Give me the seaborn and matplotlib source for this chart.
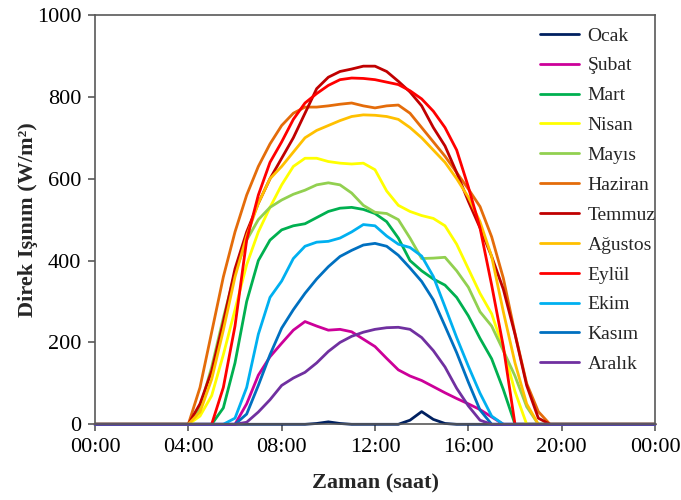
import numpy as np
import pandas as pd
import matplotlib
matplotlib.use("Agg")
import matplotlib.pyplot as plt
import seaborn as sns

# ---- data (W/m2), half-hourly from 04:00 to 19:30; night hours are zero ----
months = ["Ocak", "Şubat", "Mart", "Nisan", "Mayıs", "Haziran",
          "Temmuz", "Ağustos", "Eylül", "Ekim", "Kasım", "Aralık"]
colors = ["#002060", "#CC0099", "#00B050", "#FFFF00", "#92D050", "#E46C0A",
          "#C00000", "#FFC000", "#FF0000", "#00B0F0", "#0070C0", "#7030A0"]

day_start, day_end, step = 4.0, 20.0, 0.5

ocak    = [0, 0, 0, 0, 0, 0, 0, 0, 0, 0, 0, 2, 6, 2, 0, 0,
           0, 0, 0, 10, 31, 12, 2, 0, 0, 0, 0, 0, 0, 0, 0, 0]
subat   = [0, 0, 0, 0, 0, 50, 120, 165, 198, 230, 251, 240, 230, 232, 226, 208,
           190, 161, 133, 118, 107, 92, 77, 63, 50, 36, 18, 0, 0, 0, 0, 0]
mart    = [0, 0, 0, 40, 150, 300, 400, 450, 475, 485, 490, 505, 520, 528, 530, 525,
           515, 495, 455, 400, 375, 355, 340, 310, 265, 210, 160, 85, 0, 0, 0, 0]
nisan   = [0, 20, 70, 170, 280, 390, 470, 530, 585, 630, 650, 650, 642, 638, 636, 638,
           622, 570, 535, 520, 510, 503, 485, 440, 380, 320, 270, 185, 80, 0, 0, 0]
mayis   = [0, 40, 140, 260, 370, 450, 500, 530, 548, 562, 572, 585, 590, 585, 565, 535,
           518, 515, 500, 455, 405, 406, 408, 375, 335, 275, 240, 180, 118, 43, 0, 0]
haziran = [0, 90, 225, 360, 470, 560, 630, 685, 730, 760, 775, 775, 778, 782, 785, 778,
           773, 778, 780, 760, 725, 690, 655, 615, 575, 532, 458, 357, 222, 100, 31, 0]
temmuz  = [0, 50, 130, 250, 380, 470, 540, 600, 650, 700, 760, 820, 848, 862, 868, 875,
           875, 862, 838, 812, 778, 725, 680, 615, 545, 480, 410, 330, 220, 95, 15, 0]
agustos = [0, 30, 110, 230, 360, 460, 540, 600, 630, 665, 700, 718, 730, 742, 752, 756,
           755, 752, 745, 725, 700, 670, 640, 600, 555, 495, 410, 275, 150, 50, 0, 0]
eylul   = [0, 0, 0, 90, 240, 450, 560, 640, 690, 745, 785, 808, 828, 842, 846, 845,
           842, 836, 830, 815, 795, 765, 725, 670, 580, 480, 340, 190, 0, 0, 0, 0]
ekim    = [0, 0, 0, 0, 15, 90, 220, 310, 350, 405, 435, 445, 447, 455, 470, 488,
           485, 460, 440, 432, 411, 361, 287, 212, 142, 76, 20, 0, 0, 0, 0, 0]
kasim   = [0, 0, 0, 0, 0, 25, 95, 170, 235, 280, 320, 355, 385, 410, 425, 438,
           442, 435, 413, 382, 349, 304, 240, 175, 103, 35, 0, 0, 0, 0, 0, 0]
aralik  = [0, 0, 0, 0, 0, 5, 30, 60, 95, 113, 127, 150, 178, 200, 215, 225,
           232, 236, 237, 232, 212, 180, 140, 88, 45, 10, 0, 0, 0, 0, 0, 0]

series = [ocak, subat, mart, nisan, mayis, haziran,
          temmuz, agustos, eylul, ekim, kasim, aralik]

xtick_pos = [0, 4, 8, 12, 16, 20, 24]
xtick_labels = ["00:00", "04:00", "08:00", "12:00", "16:00", "20:00", "00:00"]
ytick_pos = [0, 200, 400, 600, 800, 1000]

# ---- long-form table ----
hours = np.arange(0, 24 + step / 2, step)
n_before = int(round(day_start / step))
rows = []
for m, vals in zip(months, series):
    full = [0] * n_before + list(vals)
    full = full + [0] * (len(hours) - len(full))
    for h, v in zip(hours, full):
        rows.append({"saat": h, "isinim": v, "ay": m})
df = pd.DataFrame(rows)

# ---- style ----
sns.set_style("white")
plt.rcParams["font.family"] = ["Liberation Serif", "DejaVu Serif"]
frame_col = "#595959"

fig = plt.figure(figsize=(6.81, 5.0), dpi=100)
ax = fig.add_axes([95 / 681, 1 - 424.3 / 500, 560 / 681, 409.3 / 500])

sns.lineplot(data=df, x="saat", y="isinim", hue="ay", hue_order=months,
             palette=colors, linewidth=2.0, ax=ax, legend=True)
for ln in ax.lines:
    ln.set_clip_on(False)
    ln.set_solid_joinstyle("round")

ax.set_xlim(0, 24)
ax.set_ylim(0, 1000)
ax.set_xticks(xtick_pos)
ax.set_xticklabels(xtick_labels)
ax.set_yticks(ytick_pos)

for sp in ax.spines.values():
    sp.set_visible(True)
    sp.set_color(frame_col)
    sp.set_linewidth(1.2)

ax.tick_params(axis="both", which="major", direction="out", length=5, width=1.2,
               color=frame_col, labelsize=16, labelcolor="black",
               bottom=True, left=True, top=False, right=False, pad=5)

ax.set_xlabel("Zaman (saat)", fontsize=16, fontweight="bold", labelpad=12)
ax.set_ylabel("Direk Işınım (W/m²)", fontsize=16, fontweight="bold", labelpad=-1)

handles, labels = ax.get_legend_handles_labels()
leg = ax.legend(handles, labels, loc="upper left",
                bbox_to_anchor=(540 / 681, 1 - 27 / 500), bbox_transform=fig.transFigure,
                frameon=False, fontsize=14, handlelength=2.0, handletextpad=0.45,
                labelspacing=0.63, borderpad=0, borderaxespad=0)
for lh in leg.get_lines():
    lh.set_linewidth(2.0)

fig.savefig("out.png", dpi=100)
